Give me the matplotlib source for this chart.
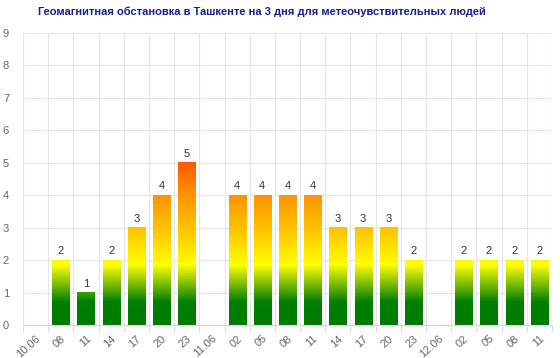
import matplotlib
matplotlib.use("Agg")
import matplotlib.pyplot as plt
from matplotlib.colors import LinearSegmentedColormap
import numpy as np

plt.rcParams['font.family'] = ['Liberation Sans', 'DejaVu Sans']

# данные
labels = ['10.06', '08', '11', '14', '17', '20', '23',
          '11.06', '02', '05', '08', '11', '14', '17', '20', '23',
          '12.06', '02', '05', '08', '11']
values = [0, 2, 1, 2, 3, 4, 5,
          0, 4, 4, 4, 4, 3, 3, 3, 2,
          0, 2, 2, 2, 2]
title = 'Геомагнитная обстановка в Ташкенте на 3 дня для метеочувствительных людей'

# градиент по значению (0..5)
cmap = LinearSegmentedColormap.from_list('kp', [
    (0.0, '#007a00'), (0.14, '#008000'), (0.37, '#ffff00'),
    (0.6, '#ffc000'), (0.8, '#ff9300'), (1.0, '#ff5a00')])

fig = plt.figure(figsize=(5.6, 3.58), dpi=100)
ax = fig.add_axes([23 / 560, 33 / 358, 529 / 560, 292 / 358])

x = np.arange(len(labels))
w = 0.68
for xi, v in zip(x, values):
    if v <= 0:
        continue
    grad = np.linspace(0, v, 256).reshape(-1, 1)
    ax.imshow(grad, extent=[xi - w / 2, xi + w / 2, 0, v], origin='lower',
              cmap=cmap, vmin=0, vmax=5, aspect='auto', zorder=2)
    ax.text(xi, v + 0.12, str(v), ha='center', va='bottom', fontsize=8, color='#333333')

ax.set_xlim(-0.5, len(labels) - 0.5)
ax.set_ylim(0, 9)

ax.set_yticks(range(0, 10))
ax.set_xticks(x)
ax.set_xticklabels(labels, rotation=42, ha='right', rotation_mode='anchor')
ax.set_xticks(np.arange(-0.5, len(labels)), minor=True)
ax.tick_params(axis='x', which='major', length=0, pad=6, labelsize=8, colors='#666666')
ax.tick_params(axis='x', which='minor', length=5, color='#ccd6eb')
ax.tick_params(axis='y', length=0, pad=10, labelsize=8, colors='#666666')

ax.grid(True, axis='y', color='#e6e6e6', linewidth=0.8, zorder=0)
ax.grid(True, axis='x', which='minor', color='#e6e6e6', linewidth=0.8, zorder=0)
ax.set_axisbelow(True)

for s in ['top', 'right', 'left']:
    ax.spines[s].set_visible(False)
ax.spines['bottom'].set_color('#ccd6eb')
ax.spines['bottom'].set_zorder(4)

fig.text(0.467, 0.966, title, ha='center', va='center', fontsize=8,
         fontweight='bold', color='#1c1c8c')

fig.savefig('out.png', dpi=100)
